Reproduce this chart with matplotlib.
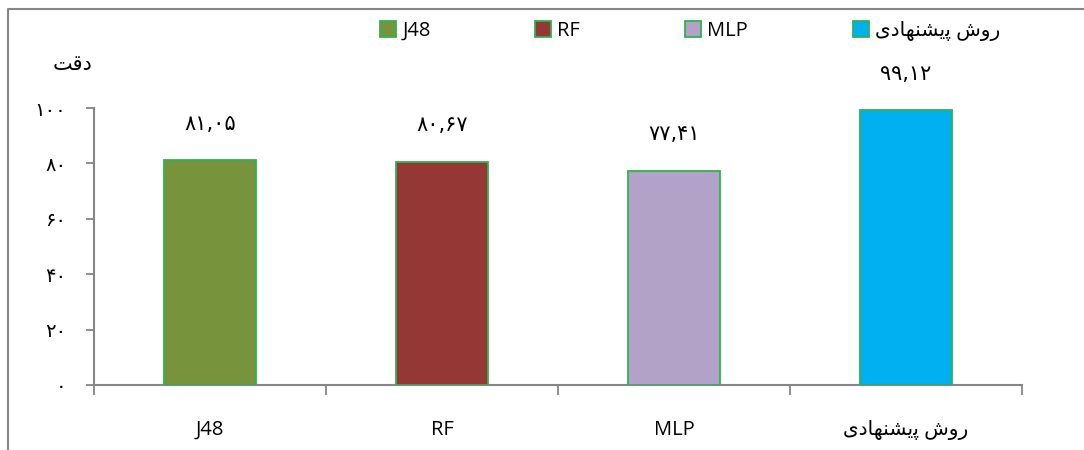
import matplotlib
matplotlib.use("Agg")
import matplotlib.pyplot as plt
from matplotlib.lines import Line2D
from matplotlib.ticker import FixedLocator, FuncFormatter

# Persian text written as shaped presentation forms in visual (left-to-right) order,
# since matplotlib does no Arabic shaping / bidi on its own
PROPOSED = "\uFBFC\uFEA9\uFE8E\uFEEC\uFEE8\uFEB8\uFBFE\uFB58 \uFEB5\uFEED\uFEAD"  # روش پیشنهادی
ACCURACY = "\uFE96\uFED7\uFEA9"  # دقت

categories = ["J48", "RF", "MLP", PROPOSED]
accuracy = [81.05, 80.67, 77.41, 99.12]
y_ticks = [0, 20, 40, 60, 80, 100]

bar_colors = ["#77933C", "#953735", "#B3A2C7", "#00B0F0"]
edge_color = "#2DB350"
axis_gray = "#868686"

FA_DIGITS = str.maketrans("0123456789", "۰۱۲۳۴۵۶۷۸۹")


def to_fa(s):
    return s.translate(FA_DIGITS)


plt.rcParams["font.family"] = ["Open Sans", "DejaVu Sans"]

fig = plt.figure(figsize=(10.84, 4.5), dpi=100)
ax = fig.add_axes([94 / 1084, 1 - 385 / 450, (1022 - 94) / 1084, (385 - 108) / 450])

x = list(range(len(categories)))
bars = ax.bar(x, accuracy, width=0.4, color=bar_colors, edgecolor=edge_color,
              linewidth=1.3, label=categories, zorder=3)

for rect, v in zip(bars, accuracy):
    ax.annotate(to_fa(f"{v:.2f}").replace(".", ","),
                (rect.get_x() + rect.get_width() / 2, rect.get_height()),
                xytext=(0, 26), textcoords="offset points",
                ha="center", va="center", fontsize=15, family="DejaVu Sans")

ax.set_xlim(-0.5, len(categories) - 0.5)
ax.set_ylim(0, 100)

ax.set_xticks(x)
ax.set_xticklabels(categories, fontsize=14.5)
ax.xaxis.set_minor_locator(FixedLocator([i - 0.5 for i in range(len(categories) + 1)]))
ax.tick_params(axis="x", which="major", length=0, pad=25)
ax.tick_params(axis="x", which="minor", length=7, width=1.3, color=axis_gray, direction="out")

ax.yaxis.set_major_locator(FixedLocator(y_ticks))
ax.yaxis.set_major_formatter(FuncFormatter(lambda v, p: to_fa(f"{int(v)}")))
ax.tick_params(axis="y", length=6, width=1.3, color=axis_gray, pad=14, labelsize=14)
for t in ax.get_yticklabels():
    t.set_family("DejaVu Sans")

for s in ["top", "right"]:
    ax.spines[s].set_visible(False)
for s in ["left", "bottom"]:
    ax.spines[s].set_color(axis_gray)
    ax.spines[s].set_linewidth(1.5)

fig.text(73 / 1084, 1 - 64 / 450, ACCURACY, ha="center", va="center",
         fontsize=15, family="DejaVu Sans")

fig.legend(handles=list(bars), labels=categories, loc="center",
           bbox_to_anchor=(690 / 1084, 1 - 31 / 450), ncol=4, frameon=False,
           fontsize=14.5, handlelength=0.8, handleheight=0.8, handletextpad=0.3,
           columnspacing=5.2)

# outer chart-area border (only left and top visible in the crop)
fig.add_artist(Line2D([8 / 1084, 8 / 1084, 1], [0, 1 - 9 / 450, 1 - 9 / 450],
                      transform=fig.transFigure, color=axis_gray, lw=1.5))

fig.savefig("out.png", dpi=100)
